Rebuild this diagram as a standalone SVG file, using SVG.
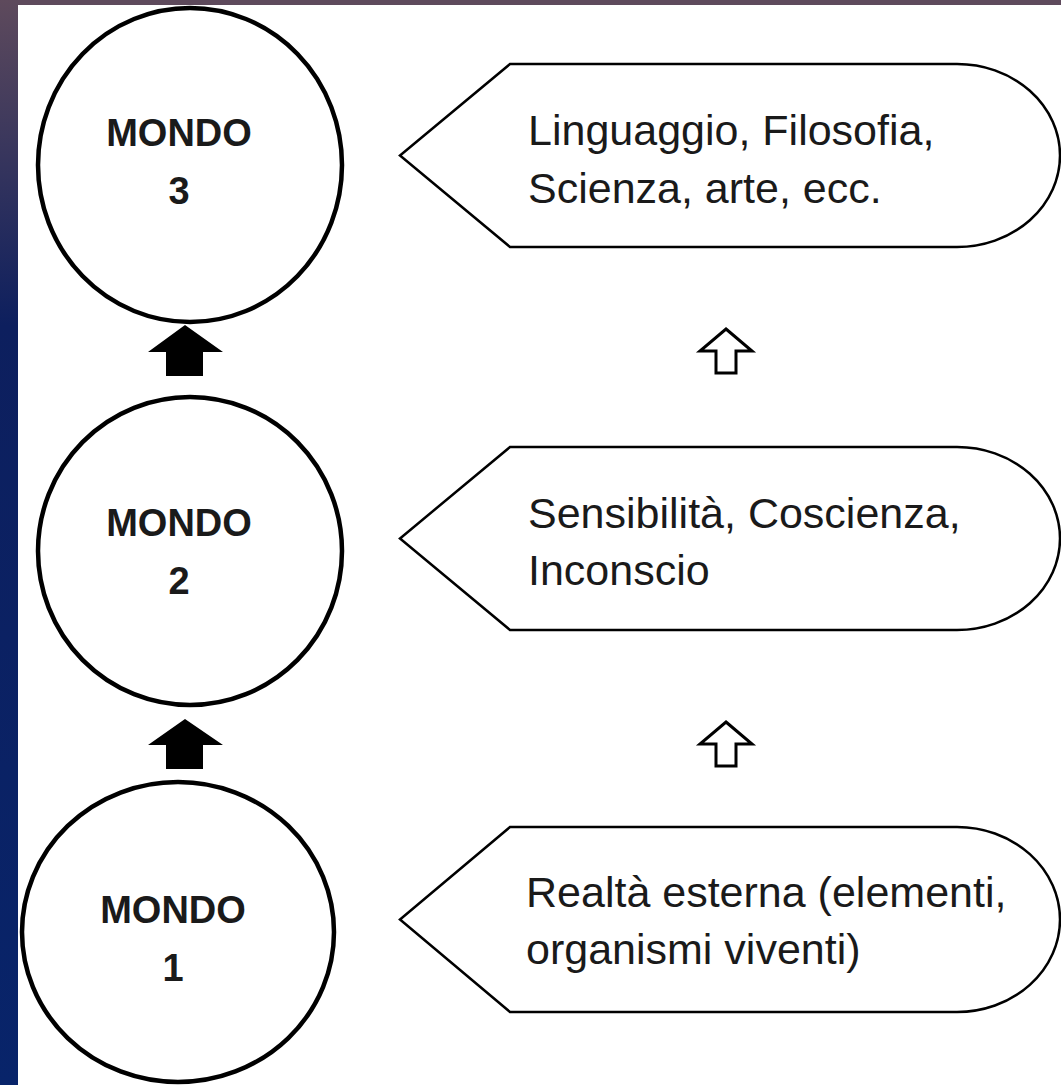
<svg xmlns="http://www.w3.org/2000/svg" width="1061" height="1085" viewBox="0 0 1061 1085">
<defs>
<linearGradient id="strip" x1="0" y1="0" x2="0" y2="1">
<stop offset="0" stop-color="#5e4a5c"/>
<stop offset="0.3" stop-color="#0d1f5e"/>
<stop offset="1" stop-color="#08246a"/>
</linearGradient>
<style>
.circ{fill:#fff;stroke:#000;stroke-width:4.5}
.pent{fill:#fff;stroke:#000;stroke-width:2.5;stroke-linejoin:miter}
.lbl{font-family:"Liberation Sans",Arial,sans-serif;font-size:38px;font-weight:bold;fill:#1a1a1a;text-anchor:middle}
.txt{font-family:"Liberation Sans",Arial,sans-serif;font-size:43px;fill:#1a1a1a}
.blk{fill:#000}
.out{fill:#fff;stroke:#000;stroke-width:3;stroke-linejoin:miter}
</style>
</defs>
<rect x="0" y="0" width="1061" height="1085" fill="#fff"/>
<rect x="0" y="0" width="1061" height="5" fill="#5e4a5c"/>
<rect x="0" y="0" width="18" height="1085" fill="url(#strip)"/>

<g id="mondo3">
<ellipse class="circ" cx="190" cy="165" rx="152" ry="157"/>
<text class="lbl" x="179" y="146">MONDO</text>
<text class="lbl" x="179" y="204">3</text>
</g>
<g id="mondo2">
<ellipse class="circ" cx="190" cy="551" rx="152" ry="154"/>
<text class="lbl" x="179" y="536">MONDO</text>
<text class="lbl" x="179" y="594">2</text>
</g>
<g id="mondo1">
<ellipse class="circ" cx="178" cy="932" rx="156" ry="150"/>
<text class="lbl" x="173" y="923">MONDO</text>
<text class="lbl" x="173" y="981">1</text>
</g>

<g id="box3">
<path class="pent" d="M510 64 L957 64 A103 91.5 0 0 1 957 247 L510 247 L400 155.5 Z"/>
<text class="txt" x="528" y="145">Linguaggio, Filosofia,</text>
<text class="txt" x="528" y="203">Scienza, arte, ecc.</text>
</g>
<g id="box2">
<path class="pent" d="M510 447 L957 447 A103 91.5 0 0 1 957 630 L510 630 L400 538.5 Z"/>
<text class="txt" x="528" y="528">Sensibilità, Coscienza,</text>
<text class="txt" x="528" y="585">Inconscio</text>
</g>
<g id="box1">
<path class="pent" d="M510 827 L957 827 A103 92.5 0 0 1 957 1012 L510 1012 L400 919.5 Z"/>
<text class="txt" x="526" y="907">Realtà esterna (elementi,</text>
<text class="txt" x="526" y="964">organismi viventi)</text>
</g>

<g id="connectors">
<polygon class="blk" points="185,325 223,352 203,352 203,376 166,376 166,352 148,352"/>
<polygon class="blk" points="185,719 223,745 203,745 203,769 166,769 166,745 148,745"/>
<polygon class="out" points="726,329 752,351 736,351 736,373 716,373 716,351 700,351"/>
<polygon class="out" points="726,722 752,744 736,744 736,766 716,766 716,744 700,744"/>
</g>
</svg>
